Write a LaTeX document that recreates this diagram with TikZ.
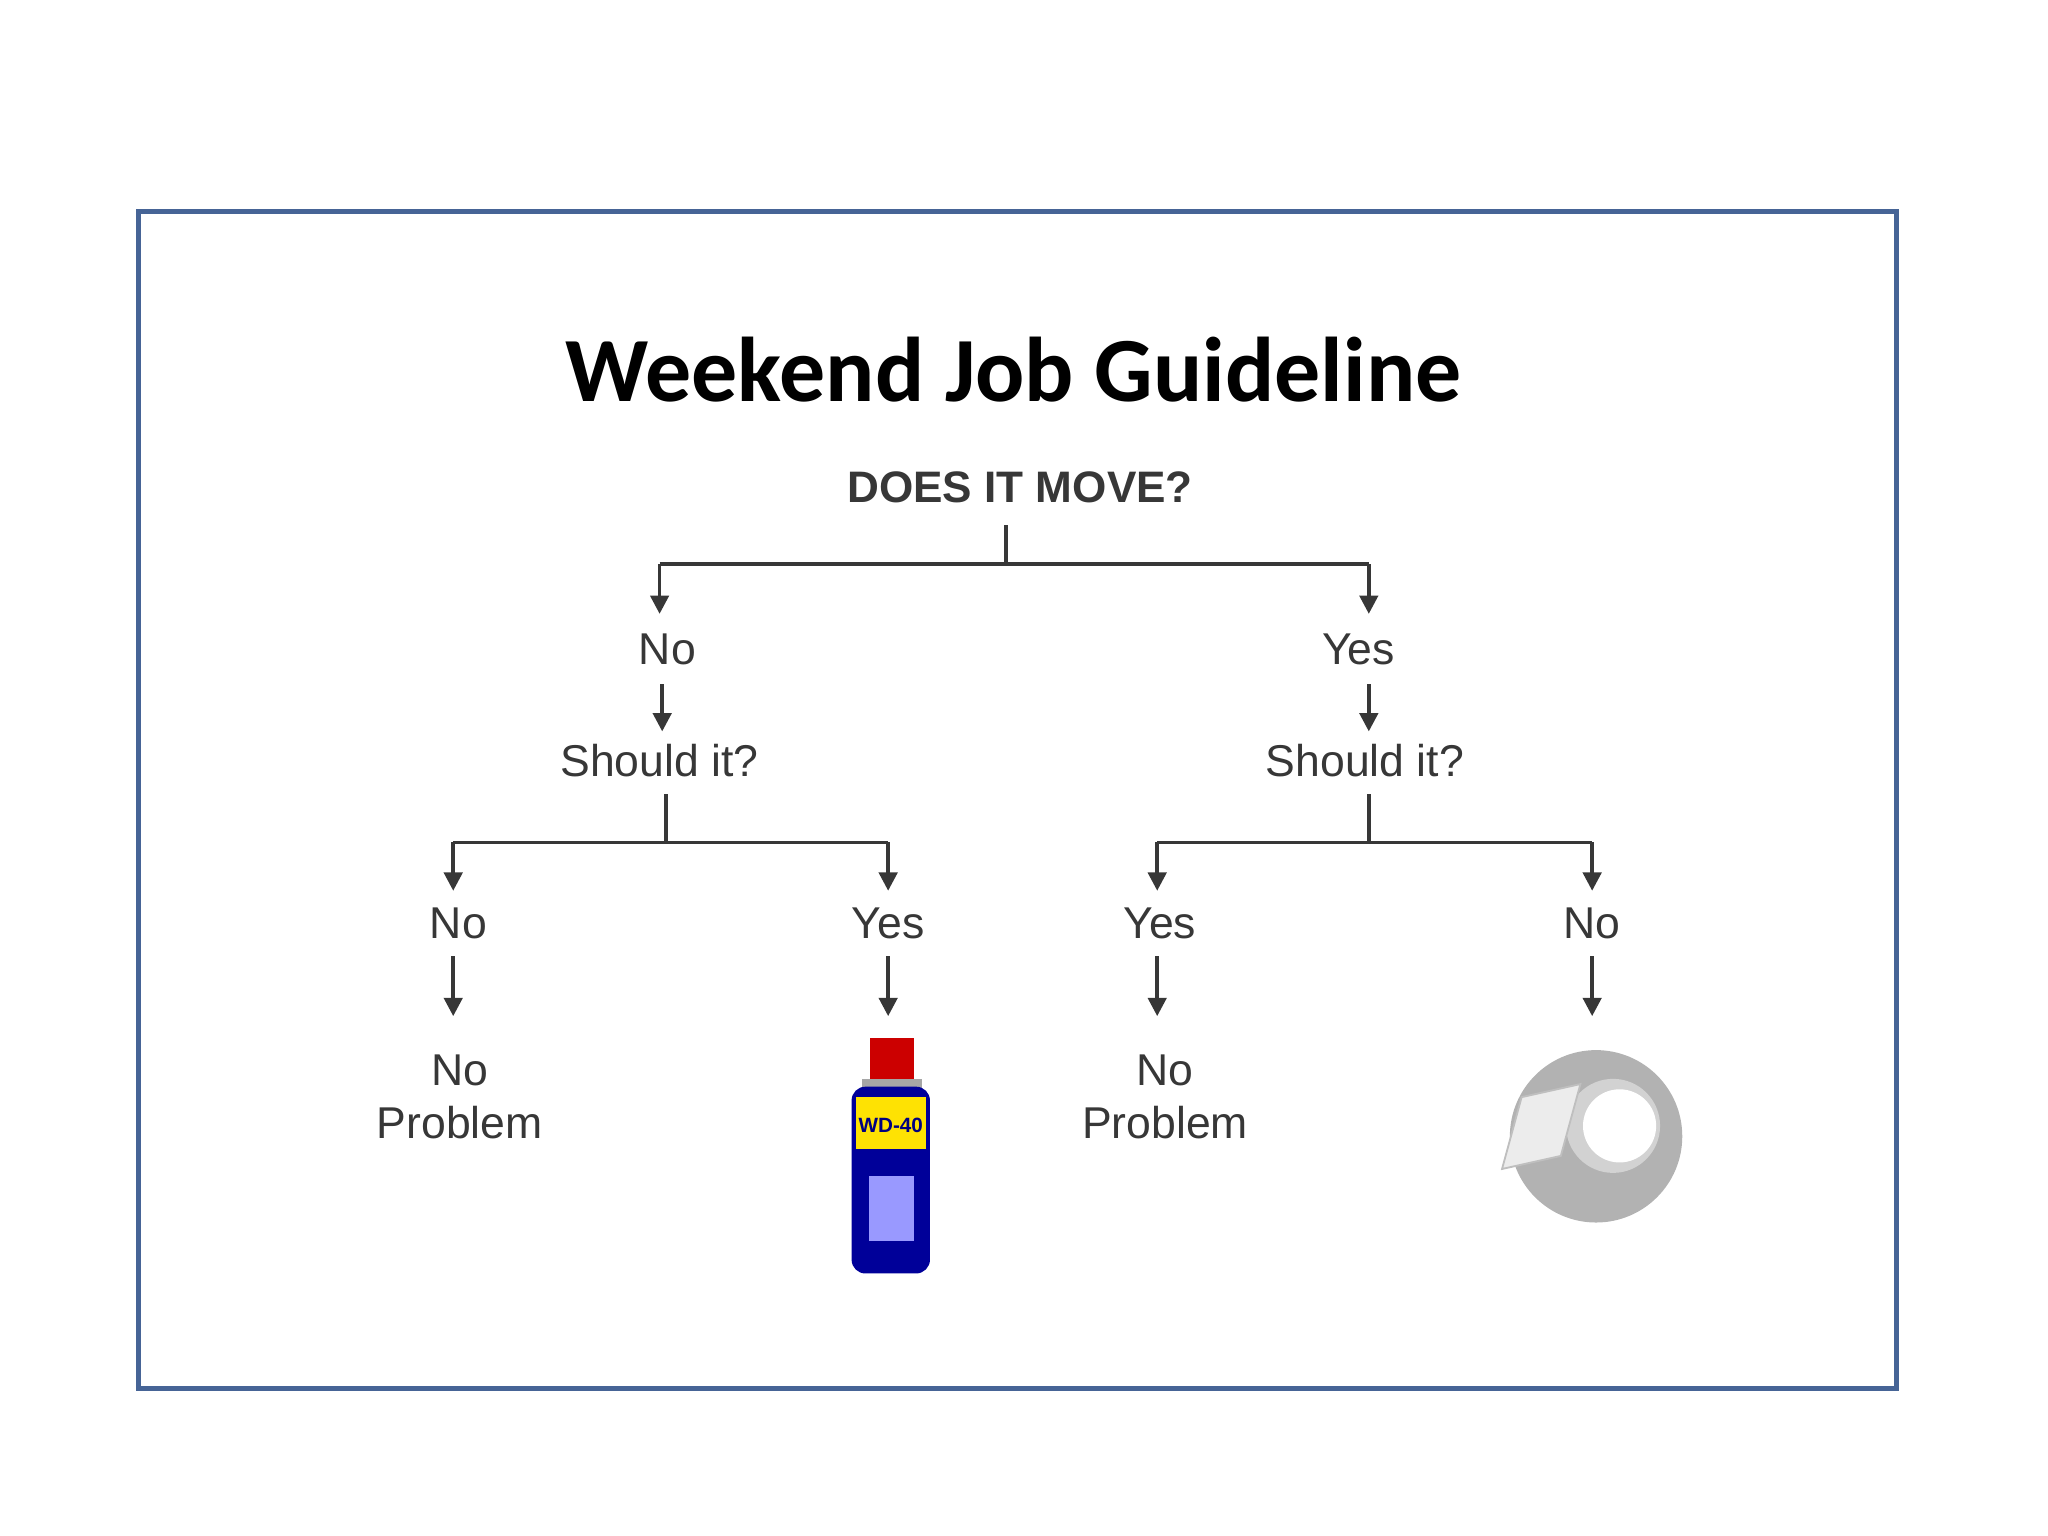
\documentclass[tikz,border=0pt]{standalone}
\usepackage{fontspec}
\setmainfont{Liberation Sans}
\newfontfamily\titlefont{Carlito}
\usetikzlibrary{arrows.meta}
\definecolor{frame}{RGB}{70,100,150}
\definecolor{txt}{RGB}{55,55,55}
\begin{document}
\begin{tikzpicture}[x=0.01cm,y=-0.01cm,
  lbl/.style={font=\fontsize{9.7}{11.5}\selectfont, text=txt, inner sep=1pt, align=center},
  ln/.style={draw=txt, line width=0.8pt},
  arr/.style={ln, -{Triangle[length=4pt,width=4pt]}}]
\useasboundingbox (0,0) rectangle (1568,1176);
\draw[frame, line width=1.1pt] (106,162) rectangle (1452,1063);
\node (title) at (776,283) {\titlefont\bfseries\fontsize{20}{24}\selectfont Weekend Job Guideline};
\node[lbl, font=\bfseries\fontsize{9.6}{11}\selectfont] (top) at (781,373) {DOES IT MOVE?};
\node[lbl] (n1) at (511,497) {No};
\node[lbl] (y1) at (1040,497) {Yes};
\node[lbl] (s1) at (505,582) {Should it?};
\node[lbl] (s2) at (1045,582) {Should it?};
\node[lbl] (a) at (351,707) {No};
\node[lbl] (b) at (680,707) {Yes};
\node[lbl] (c) at (888,707) {Yes};
\node[lbl] (d) at (1219,707) {No};
\node[lbl] (pa) at (352,840) {No\\Problem};
\node[lbl] (pc) at (892,840) {No\\Problem};
% top split
\draw[ln] (770,402) -- (770,432);
\draw[ln] (505,432) -- (1048,432);
\draw[arr] (505,432) -- (505,470);
\draw[arr] (1048,432) -- (1048,470);
\draw[arr] (507,524) -- (507,560);
\draw[arr] (1048,524) -- (1048,560);
% lower splits
\draw[ln] (510,608) -- (510,645);
\draw[ln] (347,645) -- (680,645);
\draw[arr] (347,645) -- (347,682);
\draw[arr] (680,645) -- (680,682);
\draw[ln] (1048,608) -- (1048,645);
\draw[ln] (886,645) -- (1219,645);
\draw[arr] (886,645) -- (886,682);
\draw[arr] (1219,645) -- (1219,682);
\foreach \x in {347,680,886,1219} \draw[arr] (\x,732) -- (\x,778);
% WD-40 can
\node[inner sep=0] (can) at (683,885) {};
\fill[red!80!black] (666,795) rectangle (700,830);
\fill[gray!70] (660,826) rectangle (706,836);
\fill[blue!60!black, rounded corners=3] (652,832) rectangle (712,975);
\fill[yellow!85!orange] (655,840) rectangle (709,880);
\node[font=\bfseries\fontsize{4.5}{5}\selectfont, text=blue!50!black] at (682,862) {WD-40};
\fill[blue!40!white] (665,900) rectangle (700,950);
% Tape
\node[inner sep=0] (tape) at (1222,870) {};
\fill[gray!60] (1222,870) circle (66);
\fill[gray!35] (1235,862) circle (36);
\fill[white] (1240,862) circle (28);
\fill[gray!15, draw=gray!50] (1150,895) -- (1165,840) -- (1210,830) -- (1195,885) -- cycle;
\end{tikzpicture}
\end{document}
